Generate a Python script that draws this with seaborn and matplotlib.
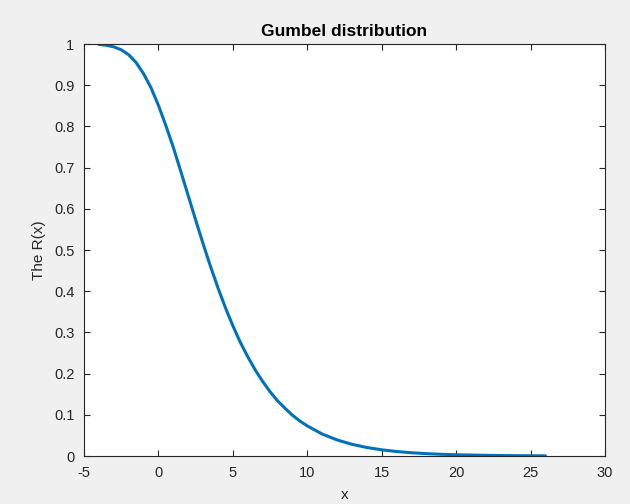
import matplotlib
matplotlib.use("Agg")
import matplotlib.pyplot as plt
import seaborn as sns
import pandas as pd

x_vals = [-4, -3.5, -3, -2.5, -2, -1.5, -1, -0.5, 0, 0.5, 1, 1.5, 2, 2.5, 3, 3.5,
          4, 4.5, 5, 5.5, 6, 6.5, 7, 7.5, 8, 8.5, 9, 9.5, 10, 11, 12, 13, 14, 15,
          16, 17, 18, 19, 20, 22, 24, 26]
r_vals = [0.999, 0.997, 0.993, 0.986, 0.974, 0.955, 0.928, 0.894, 0.851, 0.802,
          0.749, 0.691, 0.632, 0.573, 0.515, 0.460, 0.408, 0.360, 0.316, 0.276,
          0.241, 0.209, 0.181, 0.156, 0.134, 0.116, 0.099, 0.085, 0.073, 0.0534,
          0.0390, 0.0284, 0.0206, 0.0150, 0.0109, 0.0079, 0.0057, 0.0042, 0.0030,
          0.0016, 0.0008, 0.0004]
x_ticks = [-5, 0, 5, 10, 15, 20, 25, 30]
y_ticks = [0, 0.1, 0.2, 0.3, 0.4, 0.5, 0.6, 0.7, 0.8, 0.9, 1]
y_tick_labels = ["0", "0.1", "0.2", "0.3", "0.4", "0.5", "0.6", "0.7", "0.8", "0.9", "1"]

sns.set_style("white")
plt.rcParams["font.family"] = ["Liberation Sans", "DejaVu Sans"]

df = pd.DataFrame({"x": x_vals, "R": r_vals})

fig = plt.figure(figsize=(6.3, 5.04), dpi=100, facecolor="#f0f0f0")
ax = fig.add_axes([84 / 630, 1 - 456 / 504, (605 - 84) / 630, (456 - 44) / 504])
ax.set_facecolor("white")

sns.lineplot(data=df, x="x", y="R", ax=ax, color="#0072BD", linewidth=2.2)

ax.set_xlim(-5, 30)
ax.set_ylim(0, 1)
ax.set_xticks(x_ticks)
ax.set_xticklabels([str(t) for t in x_ticks])
ax.set_yticks(y_ticks)
ax.set_yticklabels(y_tick_labels)

dark = "#262626"
for sp in ax.spines.values():
    sp.set_visible(True)
    sp.set_color(dark)
    sp.set_linewidth(0.8)
ax.tick_params(direction="in", length=4, width=0.8, colors=dark, labelsize=10.5,
               top=True, right=True, bottom=True, left=True, pad=7)

ax.set_title("Gumbel distribution", fontsize=12.5, fontweight="bold", color="black", pad=6)
ax.set_xlabel("x", fontsize=11, color=dark, labelpad=6)
ax.set_ylabel("The R(x)", fontsize=11, color=dark, labelpad=6)

fig.savefig("out.png", dpi=100, facecolor=fig.get_facecolor())
